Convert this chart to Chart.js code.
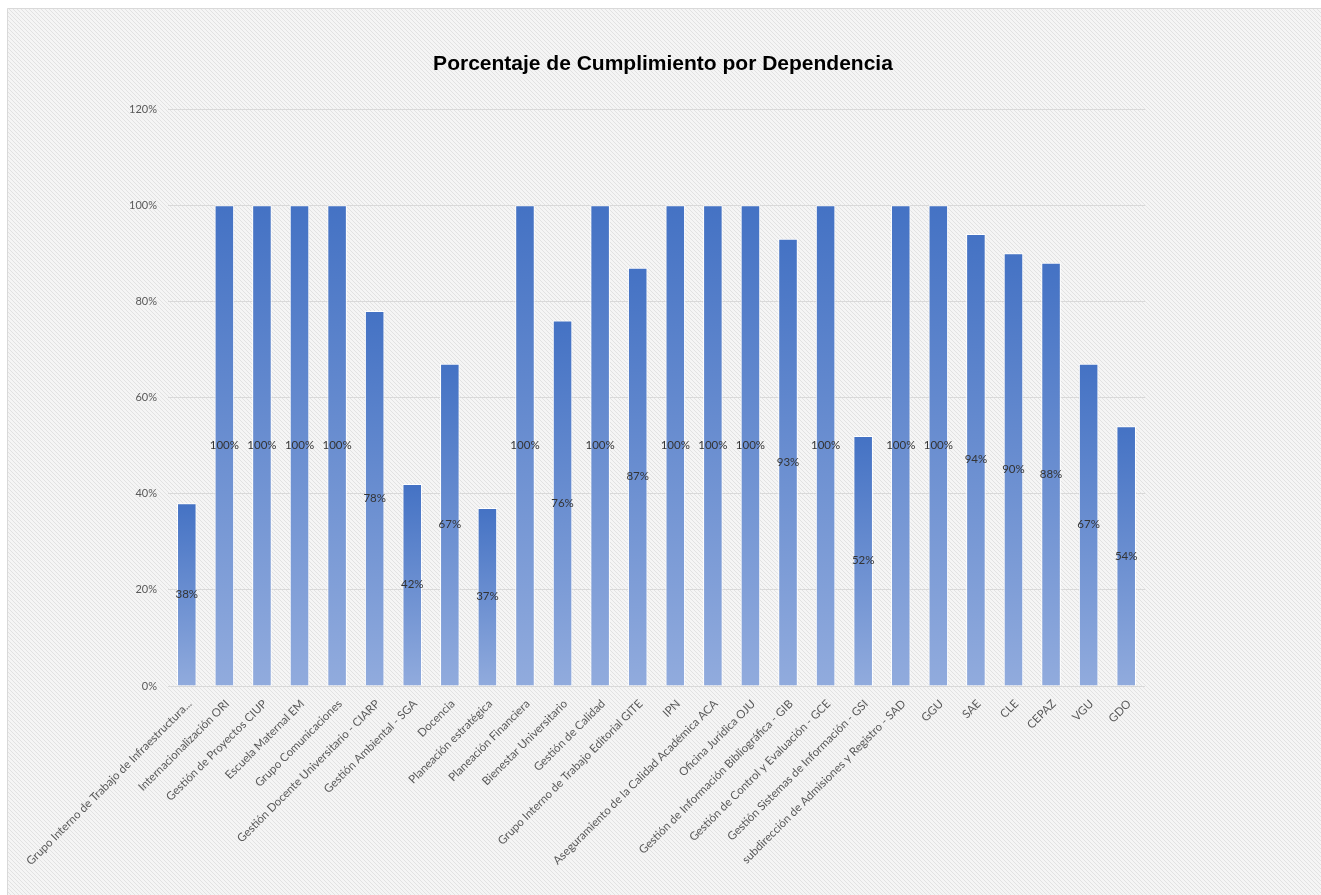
<!DOCTYPE html>
<html lang="es">
<head>
<meta charset="utf-8">
<title>Porcentaje de Cumplimiento por Dependencia</title>
<script src="https://cdn.jsdelivr.net/npm/chart.js@4/dist/chart.umd.min.js"></script>
<style>
    html, body { margin: 0; padding: 0; background: #fff; }
    canvas { display: block; }
</style>
</head>
<body>
<canvas id="cumplimientoChart" width="1321" height="895"></canvas>
<script>
// Dependencias (eje X)
const dependencias = [
    'Grupo Interno de Trabajo de Infraestructura...',
    'Internacionalización ORI',
    'Gestión de Proyectos CIUP',
    'Escuela Maternal EM',
    'Grupo Comunicaciones',
    'Gestión Docente Universitario - CIARP',
    'Gestión Ambiental - SGA',
    'Docencia',
    'Planeación estratégica',
    'Planeación Financiera',
    'Bienestar Universitario',
    'Gestión de Calidad',
    'Grupo Interno de Trabajo Editorial GITE',
    'IPN',
    'Aseguramiento de la Calidad Académica ACA',
    'Oficina Jurídica OJU',
    'Gestión de Información Bibliográfica - GIB',
    'Gestión de Control y Evaluación - GCE',
    'Gestión Sistemas de Información - GSI',
    'subdirección de Admisiones y Registro - SAD',
    'GGU',
    'SAE',
    'CLE',
    'CEPAZ',
    'VGU',
    'GDO'
];

// Porcentaje de cumplimiento (%)
const cumplimiento = [38, 100, 100, 100, 100, 78, 42, 67, 37, 100, 76, 100, 87,
    100, 100, 100, 93, 100, 52, 100, 100, 94, 90, 88, 67, 54];

// Eje Y
const yMax = 120;
const yStep = 20;

const tituloGrafico = 'Porcentaje de Cumplimiento por Dependencia';

// Fondo rayado tipo Excel
function makeHatch(ctx) {
    const tile = document.createElement('canvas');
    tile.width = 4;
    tile.height = 4;
    const t = tile.getContext('2d');
    t.fillStyle = '#f5f5f5';
    t.fillRect(0, 0, 4, 4);
    t.fillStyle = '#e2e2e2';
    for (let i = 0; i < 4; i++) {
        t.fillRect(i, i, 1, 1);
    }
    return ctx.createPattern(tile, 'repeat');
}

const backgroundPlugin = {
    id: 'hatchBackground',
    beforeDraw(chart) {
        const ctx = chart.ctx;
        ctx.save();
        ctx.fillStyle = '#ffffff';
        ctx.fillRect(0, 0, chart.width, chart.height);
        ctx.fillStyle = makeHatch(ctx);
        ctx.fillRect(7, 8, chart.width - 7, chart.height - 8);
        ctx.strokeStyle = '#d9d9d9';
        ctx.lineWidth = 1;
        ctx.beginPath();
        ctx.moveTo(7.5, chart.height);
        ctx.lineTo(7.5, 8.5);
        ctx.lineTo(chart.width, 8.5);
        ctx.stroke();

        // titulo centrado sobre todo el recuadro, no sobre el area de la grafica
        ctx.font = 'bold 21px "Liberation Sans"';
        ctx.fillStyle = '#000000';
        ctx.textAlign = 'center';
        ctx.textBaseline = 'middle';
        ctx.fillText(tituloGrafico, 663, 64);
        ctx.restore();
    }
};

// Etiquetas de datos en el centro de cada barra
const barLabelsPlugin = {
    id: 'barLabels',
    afterDatasetsDraw(chart) {
        const ctx = chart.ctx;
        const meta = chart.getDatasetMeta(0);
        ctx.save();
        ctx.font = '11.5px Lato';
        ctx.fillStyle = '#333333';
        ctx.textAlign = 'center';
        ctx.textBaseline = 'middle';
        meta.data.forEach((bar, i) => {
            const mid = (bar.y + bar.base) / 2;
            ctx.fillText(cumplimiento[i] + '%', bar.x, mid);
        });
        ctx.restore();
    }
};

function barGradient(context) {
    const chart = context.chart;
    if (!chart.chartArea) return '#6a8ed0';
    const yScale = chart.scales.y;
    const top = yScale.getPixelForValue(context.raw);
    const bottom = yScale.getPixelForValue(0);
    const g = chart.ctx.createLinearGradient(0, top, 0, bottom);
    g.addColorStop(0, '#4472c4');
    g.addColorStop(1, '#91abdd');
    return g;
}

const ctx = document.getElementById('cumplimientoChart').getContext('2d');
new Chart(ctx, {
    type: 'bar',
    data: {
        labels: dependencias,
        datasets: [{
            label: 'Cumplimiento',
            data: cumplimiento,
            backgroundColor: barGradient,
            borderColor: '#ffffff',
            borderWidth: 1,
            barPercentage: 0.52,
            categoryPercentage: 1
        }]
    },
    options: {
        responsive: false,
        animation: false,
        layout: {
            padding: { left: 8, right: 176, top: 109, bottom: 0 }
        },
        scales: {
            x: {
                grid: { display: false, drawTicks: false },
                border: { display: false },
                ticks: {
                    autoSkip: false,
                    minRotation: 45,
                    maxRotation: 45,
                    padding: 11,
                    labelOffset: 3,
                    color: '#595959',
                    font: { family: 'Lato', size: 11.5 }
                },
                afterFit(scale) {
                    scale.height = 209;
                }
            },
            y: {
                min: 0,
                max: yMax,
                grid: { color: '#d9d9d9', drawTicks: false },
                border: { display: false },
                ticks: {
                    stepSize: yStep,
                    padding: 11,
                    color: '#595959',
                    font: { family: 'Lato', size: 11 },
                    callback: v => v + '%'
                },
                afterFit(scale) {
                    scale.width = 160;
                }
            }
        },
        plugins: {
            legend: { display: false },
            tooltip: { enabled: false },
            title: { display: false }
        }
    },
    plugins: [backgroundPlugin, barLabelsPlugin]
});
</script>
</body>
</html>
